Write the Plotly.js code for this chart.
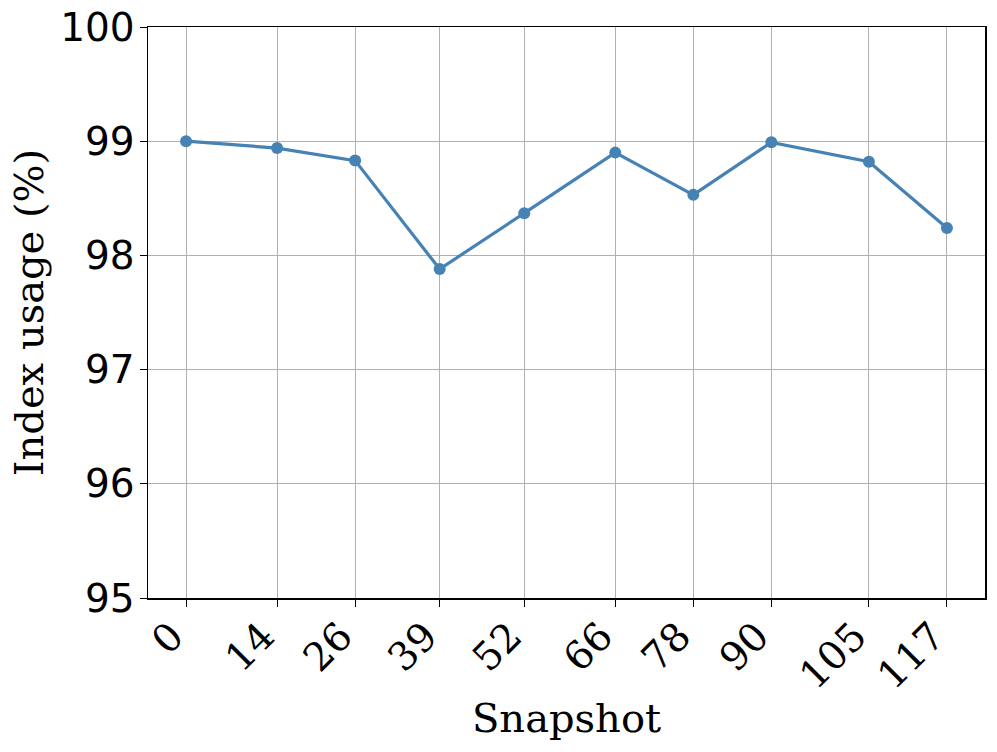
<!DOCTYPE html>
<html>
<head>
<meta charset="utf-8">
<script src="https://cdn.plot.ly/plotly-3.0.1.min.js"></script>
<style>
  html, body { margin: 0; padding: 0; background: #fff; }
  #chart { width: 997px; height: 752px; }
</style>
</head>
<body>
<div id="chart"></div>
<script>
// 스냅샷 번호와 인덱스 사용률(%)
const snapshots = [0, 14, 26, 39, 52, 66, 78, 90, 105, 117];
const indexUsage = [99.0, 98.94, 98.83, 97.88, 98.37, 98.90, 98.53, 98.99, 98.82, 98.24];
const yTicks = [95, 96, 97, 98, 99, 100];

const trace = {
    x: snapshots,
    y: indexUsage,
    mode: 'lines+markers',
    type: 'scatter',
    line: { color: '#4682b4', width: 3.2 },
    marker: { color: '#4682b4', size: 12 },
    cliponaxis: false
};

const serif = 'DejaVu Serif, serif';

const layout = {
    width: 997,
    height: 752,
    margin: { l: 148, r: 12, t: 27, b: 154 },
    paper_bgcolor: '#fff',
    plot_bgcolor: '#fff',
    showlegend: false,
    xaxis: {
        range: [-5.85, 122.85],
        tickmode: 'array',
        tickvals: snapshots,
        ticktext: snapshots.map(String),
        tickangle: -45,
        tickfont: { family: serif, size: 39, color: '#000' },
        ticklabelshift: -14,
        ticklabelstandoff: -9,
        ticks: 'outside',
        ticklen: 7,
        tickcolor: '#000',
        showline: true,
        linecolor: '#000',
        linewidth: 1.5,
        mirror: true,
        showgrid: true,
        gridcolor: '#b0b0b0',
        gridwidth: 1,
        zeroline: false,
        title: { text: 'Snapshot', font: { family: serif, size: 40, color: '#000' }, standoff: 7 }
    },
    yaxis: {
        range: [95, 100],
        tickmode: 'array',
        tickvals: yTicks,
        ticktext: yTicks.map(String),
        tickfont: { family: 'DejaVu Sans, sans-serif', size: 39, color: '#000' },
        ticklabelstandoff: -3,
        ticks: 'outside',
        ticklen: 7,
        tickcolor: '#000',
        showline: true,
        linecolor: '#000',
        linewidth: 1.5,
        mirror: true,
        showgrid: true,
        gridcolor: '#b0b0b0',
        gridwidth: 1,
        zeroline: false,
        title: { text: 'Index usage (%)', font: { family: serif, size: 40, color: '#000' }, standoff: 4 }
    }
};

Plotly.newPlot('chart', [trace], layout, { displayModeBar: false, staticPlot: true });
</script>
</body>
</html>
